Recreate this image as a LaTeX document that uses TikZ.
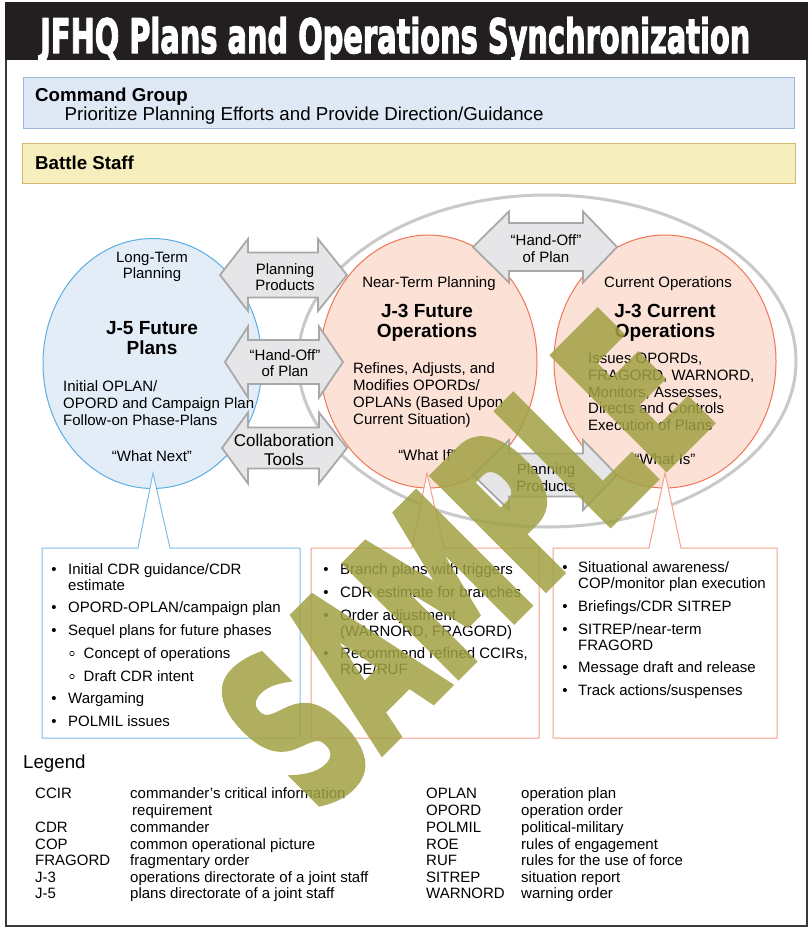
\documentclass[tikz,border=0pt]{standalone}
\usepackage{fontspec}
\setmainfont{Liberation Sans}
\newfontfamily\titlefont{DejaVu Sans}[BoldFeatures={FakeBold=3}]
\newfontfamily\wmfont{DejaVu Sans}[BoldFeatures={FakeBold=4}]
\definecolor{titlebg}{HTML}{231F20}
\definecolor{framec}{HTML}{3A3A3A}
\definecolor{cmdfill}{HTML}{DEE9F5}
\definecolor{cmdborder}{HTML}{9DB7D9}
\definecolor{bsfill}{HTML}{F7EEBD}
\definecolor{bsborder}{HTML}{D8B76E}
\definecolor{jfivef}{HTML}{E3EDF8}
\definecolor{jfiveb}{HTML}{5AAEE3}
\definecolor{jthreef}{HTML}{FCE1D7}
\definecolor{jthreeb}{HTML}{EE7657}
\definecolor{callb}{HTML}{7DBFE8}
\definecolor{callr}{HTML}{F4A28C}
\definecolor{ellc}{HTML}{C9C9C9}
\definecolor{arrf}{HTML}{E6E6E8}
\definecolor{arrb}{HTML}{A8A8A8}
\definecolor{wmc}{RGB}{161,161,68}
\tikzset{
  arrowst/.style={draw=arrb, fill=arrf, line width=1.8pt, line join=miter},
  lbl/.style={inner sep=0pt, align=center, font=\fontsize{15}{16.7}\selectfont},
  lblbig/.style={inner sep=0pt, align=center, font=\fontsize{17}{19}\selectfont},
  ctitle/.style={inner sep=0pt, align=center, font=\fontsize{19}{20.5}\selectfont\bfseries},
  cdesc/.style={inner sep=0pt, align=left, anchor=west, font=\fontsize{15}{16.8}\selectfont},
  line/.style={inner sep=0pt, anchor=base, font=\fontsize{15}{16.7}\selectfont},
  lineL/.style={inner sep=0pt, anchor=base west, font=\fontsize{15}{16.7}\selectfont},
  bulf/.style={inner sep=0pt, anchor=base, font=\fontsize{15}{16.7}\selectfont},
  subb/.style={circle, draw=black, line width=0.6pt, inner sep=0pt, minimum size=4.5pt},
  hdr/.style={inner sep=0pt, anchor=base west, font=\fontsize{18.7}{20}\selectfont\bfseries},
}
\newcommand\dblarrow[7]{%
  \draw[arrowst] (#1,#3) -- ({#1+#4},{#3-#6}) -- ({#1+#4},{#3-#7}) -- ({#2-#5},{#3-#7})
   -- ({#2-#5},{#3-#6}) -- (#2,#3) -- ({#2-#5},{#3+#6}) -- ({#2-#5},{#3+#7})
   -- ({#1+#4},{#3+#7}) -- ({#1+#4},{#3+#6}) -- cycle;}
\newcommand\litem[5]{\node[bulf] (#1b) at (#2,#4) {•}; \node[lineL] (#1) at (#3,#4) {#5};}
\newcommand\lcont[4]{\node[lineL] (#1) at (#2,#3) {#4};}
\newcommand\sitem[5]{\node[subb] (#1b) at (#2,{#4-4.5}) {}; \node[lineL] (#1) at (#3,#4) {#5};}
\newcommand\callout[6]{% x1,x2,bx1,bx2,apx,color
  \draw[#6, fill=white, line width=1pt, line join=miter] (#1,548) -- (#3,548) -- (#5,473) -- (#4,548) -- (#2,548) -- (#2,738) -- (#1,738) -- cycle;}
\begin{document}
\begin{tikzpicture}[x=1pt,y=-1pt]
\useasboundingbox (0,0) rectangle (809,939);
\fill[white] (0,0) rectangle (809,939);
% frame and title
\draw[framec, line width=2pt] (6,3) rectangle (807,926);
\fill[titlebg] (5,2) rectangle (808,60);
\node[anchor=base west, inner sep=0pt, text=white] (title) at (40,53)
  {\resizebox{710pt}{36pt}{\titlefont\bfseries JFHQ Plans and Operations Synchronization}};
% command group and battle staff
\draw[cmdborder, fill=cmdfill, line width=1pt] (23,78) rectangle (794,129);
\node[hdr] (cg) at (35,101.5) {Command Group};
\node[inner sep=0pt, anchor=base west, font=\fontsize{18.7}{20}\selectfont] (cgt) at (64.5,120.5)
  {Prioritize Planning Efforts and Provide Direction/Guidance};
\draw[bsborder, fill=bsfill, line width=1pt] (22,143) rectangle (795,183);
\node[hdr] (bs) at (35,169.5) {Battle Staff};
% big ellipse
\draw[ellc, line width=3pt, fill=white] (547,361) ellipse [x radius=249pt, y radius=166pt];
% circles
\draw[jfiveb, fill=jfivef, line width=1pt] (152.5,363.5) ellipse [x radius=109.5pt, y radius=125pt];
\draw[jthreeb, fill=jthreef, line width=1pt] (428.5,361.5) ellipse [x radius=108.5pt, y radius=126.5pt];
\draw[jthreeb, fill=jthreef, line width=1pt] (665,361.5) ellipse [x radius=111pt, y radius=126.5pt];
% arrows
\dblarrow{220}{347}{275}{28}{29}{36}{22.5}
\dblarrow{225}{343}{362}{23}{24}{35.5}{22}
\dblarrow{222}{347}{448}{26}{28}{35.5}{20.5}
\dblarrow{473}{617}{247}{36}{34}{35.5}{24}
\dblarrow{473}{617}{475}{36}{34}{35}{21.5}
\node[lbl] (pp1) at (285,277) {Planning\\Products};
\node[lbl] (ho1) at (285,363) {“Hand-Off”\\of Plan};
\node[lblbig] (ct) at (284,450) {Collaboration\\Tools};
\node[lbl] (ho2) at (546,248.5) {“Hand-Off”\\of Plan};
\node[lbl] (pp2) at (546,477.5) {Planning\\Products};
% callouts
\callout{42}{300}{138}{170}{153}{callb}
\callout{311}{539}{412}{444}{427}{callr}
\callout{553}{777}{649}{681}{665}{callr}
% circle texts J-5
\node[lbl] (lt) at (152,267) {Long-Term\\Planning};
\node[ctitle] (j5) at (152,338) {J-5 Future\\Plans};
\node[cdesc] (j5d) at (63,403) {Initial OPLAN/\\OPORD and Campaign Plan\\Follow-on Phase-Plans};
\node[line] (wn) at (152,461) {“What Next”};
% J-3 future
\node[line] (nt) at (429,287.5) {Near-Term Planning};
\node[ctitle] (j3f) at (427,323) {J-3 Future\\Operations};
\node[cdesc] (j3fd) at (353,395) {Refines, Adjusts, and\\Modifies OPORDs/\\OPLANs (Based Upon\\Current Situation)};
\node[line] (wif) at (427,460.5) {“What If”};
% J-3 current
\node[line] (co) at (668,287.5) {Current Operations};
\node[ctitle] (j3c) at (665,323) {J-3 Current\\Operations};
\node[cdesc] (j3cd) at (588,392) {Issues OPORDs,\\FRAGORD, WARNORD,\\Monitors, Assesses,\\Directs and Controls\\Execution of Plans};
\node[line] (wis) at (665,464.5) {“What Is”};
% left box list
\litem{la}{54}{68}{574}{Initial CDR guidance/CDR}
\lcont{lac}{68}{590}{estimate}
\litem{lb}{54}{68}{612}{OPORD-OPLAN/campaign plan}
\litem{lc}{54}{68}{635}{Sequel plans for future phases}
\sitem{ld}{72}{83.5}{658}{Concept of operations}
\sitem{le}{72}{83.5}{681}{Draft CDR intent}
\litem{lf}{54}{68}{703}{Wargaming}
\litem{lg}{54}{68}{726}{POLMIL issues}
% middle box list
\litem{ma}{326}{340}{574}{Branch plans with triggers}
\litem{mb}{326}{340}{597}{CDR estimate for branches}
\litem{mc}{326}{340}{620}{Order adjustment}
\lcont{mcc}{340}{636}{(WARNORD, FRAGORD)}
\litem{md}{326}{340}{658}{Recommend refined CCIRs,}
\lcont{mdc}{340}{674}{ROE/RUF}
% right box list
\litem{ra}{565}{578}{572}{Situational awareness/}
\lcont{rac}{578}{588}{COP/monitor plan execution}
\litem{rb}{565}{578}{611}{Briefings/CDR SITREP}
\litem{rc}{565}{578}{634}{SITREP/near-term}
\lcont{rcc}{578}{650}{FRAGORD}
\litem{rd}{565}{578}{672}{Message draft and release}
\litem{re}{565}{578}{695}{Track actions/suspenses}
% legend
\node[inner sep=0pt, anchor=base west, font=\fontsize{18.7}{20}\selectfont] (leg) at (23,768) {Legend};
\lcont{g1a}{35}{798}{CCIR}  \lcont{g1b}{130}{798}{commander’s critical information}
\lcont{g1c}{132}{815}{requirement}
\lcont{g2a}{35}{832}{CDR}   \lcont{g2b}{130}{832}{commander}
\lcont{g3a}{35}{849}{COP}   \lcont{g3b}{130}{849}{common operational picture}
\lcont{g4a}{35}{865}{FRAGORD} \lcont{g4b}{130}{865}{fragmentary order}
\lcont{g5a}{35}{882}{J-3}   \lcont{g5b}{130}{882}{operations directorate of a joint staff}
\lcont{g6a}{35}{898}{J-5}   \lcont{g6b}{130}{898}{plans directorate of a joint staff}
\lcont{h1a}{426}{798}{OPLAN} \lcont{h1b}{521}{798}{operation plan}
\lcont{h2a}{426}{815}{OPORD} \lcont{h2b}{521}{815}{operation order}
\lcont{h3a}{426}{832}{POLMIL} \lcont{h3b}{521}{832}{political-military}
\lcont{h4a}{426}{849}{ROE} \lcont{h4b}{521}{849}{rules of engagement}
\lcont{h5a}{426}{865}{RUF} \lcont{h5b}{521}{865}{rules for the use of force}
\lcont{h6a}{426}{882}{SITREP} \lcont{h6b}{521}{882}{situation report}
\lcont{h7a}{426}{898}{WARNORD} \lcont{h7b}{521}{898}{warning order}
% watermark
\begin{scope}[transparency group, opacity=0.85]
\node[inner sep=0pt, rotate=45, text=wmc] (wm) at (462,560)
  {\resizebox{565pt}{160pt}{\wmfont\bfseries SAMPLE}};
\end{scope}
\end{tikzpicture}
\end{document}
